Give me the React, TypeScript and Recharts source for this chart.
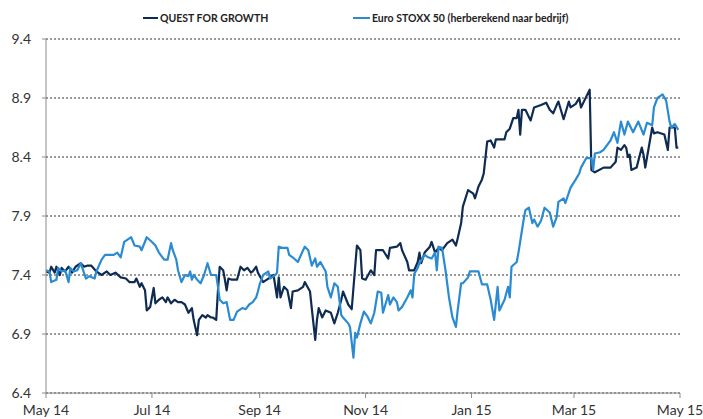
import React from "react";
import { LineChart, Line, XAxis, YAxis, CartesianGrid } from "recharts";

const seriesNames = ["QUEST FOR GROWTH", "Euro STOXX 50 (herberekend naar bedrijf)"];
const seriesColors = ["#0f2b52", "#2a8bd2"];

const yTicks = [6.4, 6.9, 7.4, 7.9, 8.4, 8.9, 9.4];
const xTickDates = ["2014-05-01", "2014-07-01", "2014-09-01", "2014-11-01", "2015-01-01", "2015-03-01", "2015-05-01"];
const xTickLabels = ["May 14", "Jul 14", "Sep 14", "Nov 14", "Jan 15", "Mar 15", "May 15"];

const qfgSeries: [string, number][] = [
  ["2014-05-01",7.43],["2014-05-03",7.42],["2014-05-04",7.47],["2014-05-06",7.42],["2014-05-07",7.47],["2014-05-09",7.40],["2014-05-10",7.46],["2014-05-12",7.43],["2014-05-14",7.47],["2014-05-16",7.42],["2014-05-18",7.47],["2014-05-21",7.50],["2014-05-23",7.47],["2014-05-25",7.48],["2014-05-27",7.48],["2014-05-30",7.43],
  ["2014-06-02",7.40],["2014-06-05",7.43],["2014-06-07",7.40],["2014-06-10",7.42],["2014-06-13",7.38],["2014-06-16",7.37],["2014-06-18",7.34],["2014-06-21",7.34],["2014-06-22",7.37],["2014-06-24",7.30],["2014-06-25",7.33],["2014-06-27",7.27],["2014-06-28",7.10],["2014-06-30",7.13],
  ["2014-07-02",7.29],["2014-07-03",7.16],["2014-07-05",7.19],["2014-07-07",7.21],["2014-07-09",7.17],["2014-07-10",7.21],["2014-07-12",7.16],["2014-07-14",7.19],["2014-07-16",7.17],["2014-07-18",7.17],["2014-07-20",7.15],["2014-07-22",7.08],["2014-07-24",7.12],["2014-07-25",7.02],["2014-07-27",6.89],["2014-07-28",7.02],["2014-07-30",7.06],
  ["2014-08-01",7.04],["2014-08-02",7.06],["2014-08-04",7.04],["2014-08-05",7.04],["2014-08-07",7.02],["2014-08-08",7.27],["2014-08-09",7.47],["2014-08-11",7.44],["2014-08-12",7.36],["2014-08-13",7.27],["2014-08-14",7.37],["2014-08-16",7.36],["2014-08-19",7.36],["2014-08-21",7.47],["2014-08-23",7.44],["2014-08-25",7.46],["2014-08-27",7.42],["2014-08-28",7.43],["2014-08-30",7.47],["2014-08-31",7.42],
  ["2014-09-03",7.34],["2014-09-06",7.37],["2014-09-09",7.40],["2014-09-11",7.21],["2014-09-12",7.38],["2014-09-13",7.21],["2014-09-15",7.30],["2014-09-17",7.27],["2014-09-19",7.12],["2014-09-20",7.26],["2014-09-23",7.27],["2014-09-26",7.30],["2014-09-27",7.34],["2014-09-30",7.26],
  ["2014-10-01",7.12],["2014-10-03",6.85],["2014-10-04",7.02],["2014-10-05",7.12],["2014-10-07",7.04],["2014-10-09",7.10],["2014-10-12",7.08],["2014-10-14",6.99],["2014-10-16",7.08],["2014-10-18",7.19],["2014-10-19",7.26],["2014-10-22",7.15],["2014-10-24",7.11],["2014-10-26",7.47],["2014-10-27",7.65],["2014-10-29",7.61],["2014-10-30",7.37],
  ["2014-11-01",7.36],["2014-11-04",7.44],["2014-11-06",7.40],["2014-11-07",7.61],["2014-11-11",7.61],["2014-11-14",7.54],["2014-11-15",7.63],["2014-11-19",7.64],["2014-11-21",7.67],["2014-11-22",7.61],["2014-11-25",7.51],["2014-11-26",7.44],["2014-11-29",7.44],
  ["2014-12-01",7.51],["2014-12-02",7.59],["2014-12-03",7.50],["2014-12-05",7.59],["2014-12-08",7.64],["2014-12-09",7.68],["2014-12-11",7.59],["2014-12-13",7.63],["2014-12-15",7.61],["2014-12-18",7.67],["2014-12-21",7.70],["2014-12-23",7.65],["2014-12-24",7.71],["2014-12-26",7.84],["2014-12-27",7.98],["2014-12-30",8.12],
  ["2015-01-02",8.09],["2015-01-03",8.05],["2015-01-05",8.15],["2015-01-07",8.21],["2015-01-08",8.26],["2015-01-10",8.53],["2015-01-12",8.54],["2015-01-14",8.48],["2015-01-15",8.55],["2015-01-20",8.55],["2015-01-21",8.61],["2015-01-23",8.64],["2015-01-25",8.73],["2015-01-27",8.73],["2015-01-28",8.80],["2015-01-29",8.59],["2015-01-30",8.80],
  ["2015-02-01",8.80],["2015-02-04",8.71],["2015-02-06",8.82],["2015-02-10",8.84],["2015-02-13",8.86],["2015-02-15",8.80],["2015-02-17",8.77],["2015-02-19",8.84],["2015-02-20",8.87],["2015-02-23",8.72],["2015-02-26",8.87],["2015-02-27",8.82],
  ["2015-03-02",8.85],["2015-03-04",8.90],["2015-03-05",8.82],["2015-03-07",8.88],["2015-03-10",8.97],["2015-03-11",8.29],["2015-03-13",8.27],["2015-03-18",8.31],["2015-03-22",8.31],["2015-03-25",8.36],["2015-03-26",8.48],["2015-03-28",8.46],["2015-03-30",8.50],["2015-03-31",8.48],
  ["2015-04-01",8.40],["2015-04-02",8.42],["2015-04-03",8.29],["2015-04-06",8.31],["2015-04-09",8.48],["2015-04-10",8.42],["2015-04-11",8.31],["2015-04-13",8.48],["2015-04-15",8.65],["2015-04-16",8.60],["2015-04-18",8.61],["2015-04-22",8.59],["2015-04-24",8.46],["2015-04-25",8.65],["2015-04-28",8.65],["2015-04-29",8.48],["2015-04-30",8.48],
];

const stoxxSeries: [string, number][] = [
  ["2014-05-01",7.44],["2014-05-03",7.43],["2014-05-04",7.34],["2014-05-07",7.36],["2014-05-08",7.46],["2014-05-10",7.43],["2014-05-12",7.44],["2014-05-14",7.34],["2014-05-15",7.46],["2014-05-17",7.43],["2014-05-19",7.44],["2014-05-21",7.50],["2014-05-24",7.37],["2014-05-26",7.39],["2014-05-29",7.37],["2014-05-30",7.43],
  ["2014-06-02",7.53],["2014-06-04",7.57],["2014-06-09",7.57],["2014-06-11",7.59],["2014-06-13",7.55],["2014-06-15",7.68],["2014-06-18",7.71],["2014-06-19",7.72],["2014-06-21",7.65],["2014-06-24",7.64],["2014-06-25",7.61],["2014-06-28",7.72],
  ["2014-07-01",7.68],["2014-07-03",7.65],["2014-07-05",7.59],["2014-07-08",7.53],["2014-07-10",7.53],["2014-07-12",7.67],["2014-07-13",7.61],["2014-07-15",7.53],["2014-07-16",7.44],["2014-07-18",7.34],["2014-07-20",7.40],["2014-07-22",7.39],["2014-07-23",7.43],["2014-07-24",7.36],["2014-07-25",7.40],["2014-07-27",7.36],["2014-07-29",7.33],["2014-07-31",7.40],
  ["2014-08-02",7.50],["2014-08-04",7.40],["2014-08-07",7.40],["2014-08-08",7.30],["2014-08-09",7.19],["2014-08-11",7.16],["2014-08-13",7.17],["2014-08-15",7.02],["2014-08-17",7.02],["2014-08-19",7.09],["2014-08-22",7.12],["2014-08-24",7.11],["2014-08-26",7.15],["2014-08-28",7.17],["2014-08-30",7.21],["2014-08-31",7.26],
  ["2014-09-01",7.32],["2014-09-03",7.40],["2014-09-06",7.43],["2014-09-07",7.37],["2014-09-10",7.40],["2014-09-11",7.42],["2014-09-12",7.64],["2014-09-14",7.63],["2014-09-17",7.63],["2014-09-18",7.57],["2014-09-20",7.55],["2014-09-23",7.51],["2014-09-26",7.61],["2014-09-27",7.64],["2014-09-29",7.61],
  ["2014-10-01",7.48],["2014-10-03",7.54],["2014-10-04",7.47],["2014-10-06",7.51],["2014-10-09",7.43],["2014-10-10",7.30],["2014-10-12",7.21],["2014-10-14",7.33],["2014-10-16",7.30],["2014-10-18",7.06],["2014-10-19",7.04],["2014-10-22",6.99],["2014-10-23",6.96],["2014-10-25",6.70],["2014-10-26",6.91],["2014-10-27",6.87],["2014-10-29",6.99],["2014-10-31",7.09],
  ["2014-11-02",7.05],["2014-11-04",6.99],["2014-11-06",7.08],["2014-11-08",7.26],["2014-11-10",7.25],["2014-11-11",7.08],["2014-11-14",7.23],["2014-11-15",7.15],["2014-11-17",7.21],["2014-11-19",7.17],["2014-11-20",7.10],["2014-11-22",7.13],["2014-11-25",7.21],["2014-11-27",7.27],["2014-11-28",7.21],["2014-11-29",7.41],
  ["2014-12-01",7.46],["2014-12-02",7.50],["2014-12-05",7.57],["2014-12-07",7.55],["2014-12-09",7.54],["2014-12-11",7.59],["2014-12-12",7.44],["2014-12-13",7.64],["2014-12-15",7.63],["2014-12-17",7.44],["2014-12-19",7.21],["2014-12-21",7.04],["2014-12-23",6.96],["2014-12-24",7.10],["2014-12-26",7.33],["2014-12-27",7.33],["2014-12-30",7.38],["2014-12-31",7.43],
  ["2015-01-03",7.43],["2015-01-05",7.43],["2015-01-07",7.32],["2015-01-10",7.32],["2015-01-12",7.19],["2015-01-14",7.02],["2015-01-16",7.30],["2015-01-17",7.10],["2015-01-20",7.19],["2015-01-22",7.30],["2015-01-23",7.21],["2015-01-24",7.47],["2015-01-27",7.51],["2015-01-28",7.59],["2015-01-31",7.87],
  ["2015-02-01",7.95],["2015-02-03",7.97],["2015-02-05",7.84],["2015-02-06",7.87],["2015-02-08",7.81],["2015-02-10",7.86],["2015-02-12",7.97],["2015-02-15",7.93],["2015-02-17",7.81],["2015-02-19",7.89],["2015-02-20",8.02],["2015-02-23",8.05],["2015-02-24",8.01],["2015-02-27",8.14],
  ["2015-03-02",8.21],["2015-03-04",8.26],["2015-03-05",8.31],["2015-03-08",8.39],["2015-03-11",8.39],["2015-03-12",8.29],["2015-03-13",8.43],["2015-03-16",8.44],["2015-03-18",8.46],["2015-03-20",8.50],["2015-03-22",8.54],["2015-03-24",8.61],["2015-03-26",8.52],["2015-03-28",8.70],["2015-03-30",8.59],
  ["2015-04-01",8.70],["2015-04-04",8.61],["2015-04-07",8.70],["2015-04-10",8.59],["2015-04-12",8.69],["2015-04-15",8.67],["2015-04-16",8.82],["2015-04-18",8.90],["2015-04-21",8.93],["2015-04-23",8.88],["2015-04-25",8.70],["2015-04-26",8.65],["2015-04-28",8.68],["2015-04-30",8.63],
];

const toTs = (s: string) => {
  const [y, m, d] = s.split("-").map(Number);
  return Date.UTC(y, m - 1, d);
};

const qfgData = qfgSeries.map(([d, v]) => ({ t: toTs(d), v }));
const stoxxData = stoxxSeries.map(([d, v]) => ({ t: toTs(d), v }));
const xTicks = xTickDates.map(toTs);
const labelFor = (t: number) => {
  const i = xTicks.indexOf(t);
  return i >= 0 ? xTickLabels[i] : "";
};

const FONT = "Lato, 'Open Sans', sans-serif";

export default function App() {
  return (
    <div style={{ position: "absolute", left: 0, top: 0, width: 703, height: 419, background: "#fff", fontFamily: FONT }}>
      <LineChart
        width={703}
        height={419}
        margin={{ top: 39, right: 23, left: 0, bottom: 0 }}
      >
        <CartesianGrid
          vertical={false}
          horizontal={true}
          stroke="#1e1e1e"
          strokeDasharray="2 2"
          strokeWidth={0.9}
        />
        <XAxis
          type="number"
          dataKey="t"
          scale="time"
          domain={[xTicks[0], xTicks[xTicks.length - 1]]}
          ticks={xTicks}
          tickFormatter={labelFor}
          height={26}
          tickSize={5}
          tickMargin={7}
          stroke="#8a8a8a"
          tick={{ fill: "#333", fontSize: 14, fontFamily: FONT }}
          allowDataOverflow
          interval={0}
        />
        <YAxis
          type="number"
          domain={[6.4, 9.4]}
          ticks={yTicks}
          width={46}
          tickSize={4}
          tickMargin={11}
          stroke="#8a8a8a"
          tickFormatter={(v: number) => v.toFixed(1)}
          tick={{ fill: "#333", fontSize: 14, fontFamily: FONT }}
          interval={0}
        />
        <Line
          data={qfgData}
          dataKey="v"
          name={seriesNames[0]}
          type="linear"
          stroke={seriesColors[0]}
          strokeWidth={2.2}
          dot={false}
          isAnimationActive={false}
          strokeLinejoin="round"
        />
        <Line
          data={stoxxData}
          dataKey="v"
          name={seriesNames[1]}
          type="linear"
          stroke={seriesColors[1]}
          strokeWidth={2.2}
          dot={false}
          isAnimationActive={false}
          strokeLinejoin="round"
        />
      </LineChart>
      <div style={{ position: "absolute", left: 143, top: 17, width: 15, height: 2, background: seriesColors[0] }} />
      <div style={{ position: "absolute", left: 160, top: 10, fontSize: 10.5, fontWeight: 700, color: "#222", whiteSpace: "nowrap", lineHeight: "16px" }}>
        {seriesNames[0]}
      </div>
      <div style={{ position: "absolute", left: 353, top: 17, width: 17, height: 2, background: seriesColors[1] }} />
      <div style={{ position: "absolute", left: 372, top: 10, fontSize: 10.5, fontWeight: 700, color: "#222", whiteSpace: "nowrap", lineHeight: "16px" }}>
        {seriesNames[1]}
      </div>
    </div>
  );
}
